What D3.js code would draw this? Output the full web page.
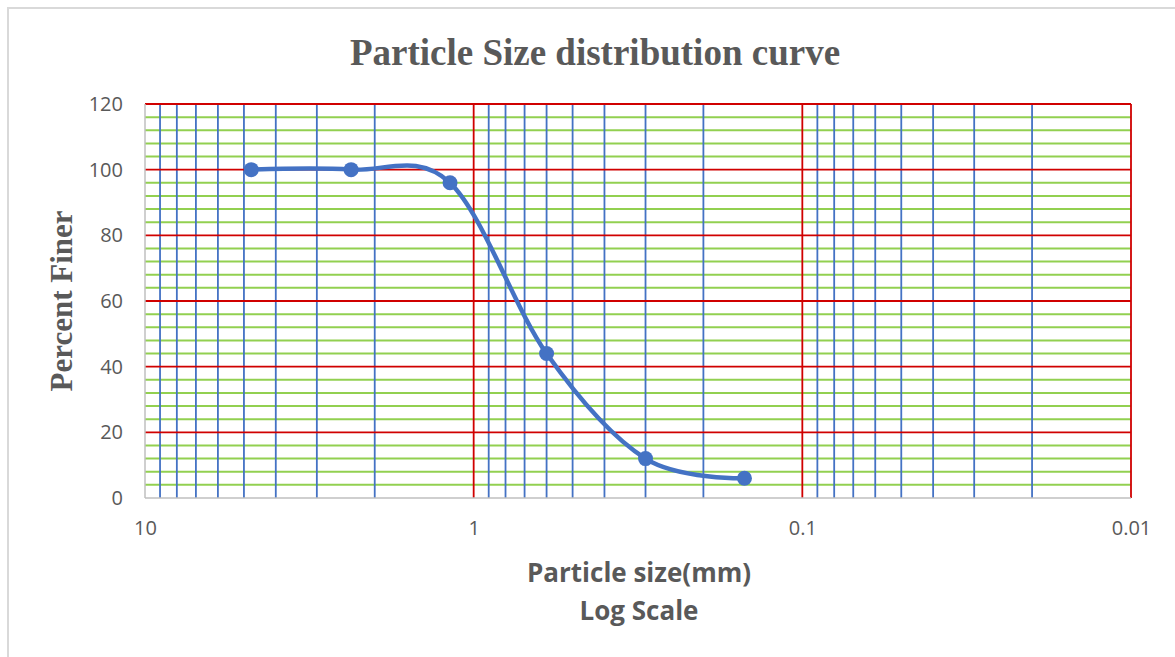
<!DOCTYPE html>
<html>
<head>
<meta charset="utf-8">
<script src="https://cdn.jsdelivr.net/npm/d3@7"></script>
<style>
  body { margin: 0; background: #fff; }
  svg { display: block; }
</style>
</head>
<body>
<svg id="chart"></svg>
<script>
// Particle size distribution (sieve analysis)
const sieveSizes = [4.75, 2.36, 1.18, 0.6, 0.3, 0.15];   // mm
const percentFiner = [100, 100, 96, 44, 12, 6];           // %
const xTicks = [10, 1, 0.1, 0.01];
const yTicks = [0, 20, 40, 60, 80, 100, 120];

const width = 1175, height = 657;
const margin = { top: 104, right: 44, bottom: 159, left: 145 };
const innerW = width - margin.left - margin.right;
const innerH = height - margin.top - margin.bottom;

const svg = d3.select("#chart")
  .attr("width", width)
  .attr("height", height);

// outer chart border (only top/left visible in the picture)
svg.append("path")
  .attr("d", `M8,${height} V8 H${width}`)
  .attr("fill", "none")
  .attr("stroke", "#d9d9d9")
  .attr("stroke-width", 2);

const g = svg.append("g")
  .attr("transform", `translate(${margin.left},${margin.top})`);

// Scales (log, reversed: large sizes on the left)
const x = d3.scaleLog().domain([10, 0.01]).range([0, innerW]);
const y = d3.scaleLinear().domain([0, 120]).range([innerH, 0]);

// minor vertical grid: 2..9 within each decade
const minorX = [];
[1, 0.1, 0.01].forEach(base => {
  d3.range(2, 10).forEach(m => minorX.push(+(base * m).toPrecision(3)));
});
// minor horizontal grid: every 4 %
const minorY = d3.range(4, 120, 4).filter(v => v % 20 !== 0);

g.append("g").selectAll("line")
  .data(minorY)
  .join("line")
  .attr("x1", 0).attr("x2", innerW)
  .attr("y1", d => y(d)).attr("y2", d => y(d))
  .attr("stroke", "#92d050")
  .attr("stroke-width", 2);

g.append("g").selectAll("line")
  .data(minorX)
  .join("line")
  .attr("x1", d => x(d)).attr("x2", d => x(d))
  .attr("y1", 0).attr("y2", innerH)
  .attr("stroke", "#4472c4")
  .attr("stroke-width", 1.8);

// major grid
g.append("g").selectAll("line")
  .data(yTicks.filter(d => d > 0))
  .join("line")
  .attr("x1", 0).attr("x2", innerW)
  .attr("y1", d => y(d)).attr("y2", d => y(d))
  .attr("stroke", "#d00000")
  .attr("stroke-width", 1.8);

g.append("g").selectAll("line")
  .data(xTicks.filter(d => d < 10))
  .join("line")
  .attr("x1", d => x(d)).attr("x2", d => x(d))
  .attr("y1", 0).attr("y2", innerH)
  .attr("stroke", "#d00000")
  .attr("stroke-width", 1.8);

// axes lines (gray)
g.append("line")
  .attr("x1", 0).attr("x2", innerW)
  .attr("y1", innerH).attr("y2", innerH)
  .attr("stroke", "#bfbfbf").attr("stroke-width", 1.5);
g.append("line")
  .attr("x1", 0).attr("x2", 0)
  .attr("y1", 0).attr("y2", innerH)
  .attr("stroke", "#bfbfbf").attr("stroke-width", 1.5);

// tick labels
const xAxis = d3.axisBottom(x)
  .tickValues(xTicks)
  .tickFormat(d => String(d))
  .tickSize(0)
  .tickPadding(23);
const yAxis = d3.axisLeft(y)
  .tickValues(yTicks)
  .tickSize(0)
  .tickPadding(22);

const xa = g.append("g")
  .attr("transform", `translate(0,${innerH})`)
  .call(xAxis);
const ya = g.append("g").call(yAxis);
[xa, ya].forEach(a => {
  a.select(".domain").remove();
  a.selectAll("text")
    .attr("font-family", "'Open Sans', sans-serif")
    .attr("font-size", 20)
    .attr("fill", "#595959");
});

// data line (smoothed like the spreadsheet)
const pts = sieveSizes.map((s, i) => ({ s, p: percentFiner[i] }));
const line = d3.line()
  .x(d => x(d.s))
  .y(d => y(d.p))
  .curve(d3.curveCardinal.tension(0));

g.append("path")
  .datum(pts)
  .attr("d", line)
  .attr("fill", "none")
  .attr("stroke", "#4472c4")
  .attr("stroke-width", 4.5);

g.append("g").selectAll("circle")
  .data(pts)
  .join("circle")
  .attr("cx", d => x(d.s))
  .attr("cy", d => y(d.p))
  .attr("r", 7.5)
  .attr("fill", "#4472c4");

// titles
svg.append("text")
  .attr("x", 595).attr("y", 65)
  .attr("text-anchor", "middle")
  .attr("font-family", "'Liberation Serif', 'Times New Roman', serif")
  .attr("font-weight", "bold")
  .attr("font-size", 37)
  .attr("fill", "#595959")
  .text("Particle Size distribution curve");

svg.append("text")
  .attr("transform", `translate(72,301) rotate(-90)`)
  .attr("text-anchor", "middle")
  .attr("font-family", "'Liberation Serif', 'Times New Roman', serif")
  .attr("font-weight", "bold")
  .attr("font-size", 31)
  .attr("fill", "#595959")
  .text("Percent Finer");

const xt = svg.append("text")
  .attr("text-anchor", "middle")
  .attr("font-family", "'Open Sans', sans-serif")
  .attr("font-weight", "bold")
  .attr("font-size", 26)
  .attr("fill", "#595959");
xt.append("tspan").attr("x", 639).attr("y", 582).text("Particle size(mm)");
xt.append("tspan").attr("x", 639).attr("y", 620).text("Log Scale");
</script>
</body>
</html>
